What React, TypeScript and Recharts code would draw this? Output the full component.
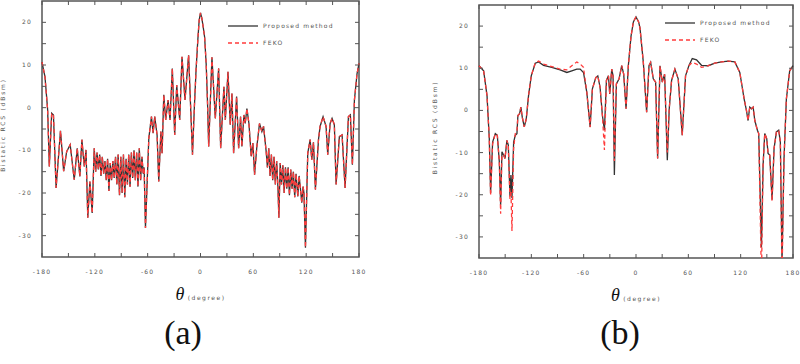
import { LineChart, Line, XAxis, YAxis, ReferenceArea } from "recharts";

// panel (a)
const thetaA = [
  -180, -176.6, -173.6, -171.7, -169, -167, -164, -159, -155.4, -152, -148, -143.4, -140, -137, -134.7, -132, -130, -128,
  -125.6, -123, -120.7, -119, -117.5, -116, -114.5, -113, -111.5, -110, -108.5, -107, -105.5, -104, -102.5, -101, -99.5,
  -98, -96.5, -95, -93.5, -92, -90.5, -89, -87.5, -86, -84.5, -83, -81.5, -80, -78.5, -77, -75.5, -74, -72.5, -71, -69.5,
  -68, -66.5, -65, -64, -62.5, -58.7, -55.7, -53.8, -52, -49.3, -47.4, -45, -43.6, -41.7, -39.5, -36.8, -34.6, -32, -29.3,
  -27, -23.6, -21, -17.6, -13.5, -9.1, -7, -5, -3, -1.5, 0, 1.5, 3, 4.7, 6.5, 8, 9.3, 13, 16.8, 20.6, 22.9, 26.6, 28.2,
  31.2, 33.8, 35.7, 37.6, 41, 43.3, 45.5, 47, 49.3, 50.8, 52.7, 55, 57.6, 59.5, 61.4, 64, 67, 69.7, 71.6, 74.6, 76, 77.5,
  79, 80.5, 82, 83.5, 85, 86.5, 88, 89, 90.5, 92, 93.5, 95, 96.5, 98, 99.5, 101, 102.5, 104, 105.5, 107, 108.5, 110.5,
  112, 113.5, 115, 116.5, 117.5, 119.2, 121.8, 124.5, 126.4, 128.3, 130.5, 134, 135.8, 139.2, 142.6, 144.5, 147.2, 149.4,
  152, 154, 157.7, 160.8, 164.2, 168, 170.2, 172.5, 174.8, 177.8, 180,
];
const rcsA = [
  10.7, 7.2, -0.5, -13.8, -1.3, -1.7, -18.8, -5.4, -14.9, -10.3, -8.7, -16.9, -9.5, -16.1, -7.5, -13.8, -9.9, -25.8,
  -17.3, -24.7, -9.5, -15, -10.5, -14.5, -11, -16, -11.5, -15.5, -12.5, -17, -12, -19.5, -13, -17, -12.5,
  -16.5, -11.5, -18, -11, -20.5, -11.5, -20, -11, -21, -12, -18, -11, -18.5, -10.5, -16.5, -10, -17, -10.5, -18.5, -9.5,
  -17, -11.5, -15.5, -14, -28.2, -7.2, -2.1, -6, -2.1, -6.4, -17.3, -5.6, -10.7, 3, -2.9, 1.8, -2.9, 9.2, -6.4,
  5.3, -2.9, 11.9, 1.8, 12.3, -11, 0, 9, 16, 20.5, 22.2, 21, 19, 16.5, 10, 1, -9.1, 11.8, -2.5, 9.2, -9.5, 4.9, -2.9,
  8.4, -4, 3.3, -10.7, 2.6, -9.5, -2.1, -9.1, -1.7, -3.7, -0.2, -3.7, -11.4, -8.3, -15.7, -9.1, -3.7, -5.6, -4.4, -10.3, -14, -9.5,
  -16, -11, -17, -11.5, -18, -12.5, -19, -25.8, -13, -18, -13.5, -20, -14, -19, -14, -20.5, -14.5, -19, -15, -21, -15.5, -20.8,
  -16, -19, -22.3, -18.5, -20, -32.8, -10.7, -7.5, -12.2, -8.1, -19.2, -7.5, -4.4, -2.1, -4.4, -11, -3.7, -2.5,
  -4, -18, -6.8, -6.4, -18.8, -2.1, -1.7, -13.4, 1.8, 8, 10.4,
];
const refA = rcsA;

// panel (b)
const thetaB = [
  -180, -174.7, -170.8, -168.2, -166.7, -164.4, -161.3, -159, -156.7, -155.2, -153.7, -151.8, -150.2, -148, -146.4, -144.5,
  -143.4, -142.2, -140.3, -138.4, -136.5, -135.4, -133.5, -132, -130.4, -128.1, -125.8, -123.2, -120.1, -115.5, -111.7,
  -106, -96.5, -87, -79.3, -73.6, -67.9, -64, -60.2, -56.4, -52.6, -50, -46.1, -43.8, -41.2, -38.5, -36.2, -33.9, -31.6,
  -30.1, -27.8, -26.3, -24.8, -22.5, -19.4, -16.4, -14.1, -11.4, -8.8, -5.7, -3, 0, 3, 4.6, 8.4, 12.2, 14.9, 16.8, 19.8,
  22.5, 24.8, 27.5, 30.1, 32.8, 35.9, 38.1, 40.8, 44.6, 48.4, 53, 56.8, 60.6, 64.5, 69.4, 75.1, 82.8, 90.4, 98, 105.7,
  113.3, 119, 124, 126.6, 128.5, 130.4, 132.4, 134.3, 136.2, 139.2, 140.7, 143.8, 145.7, 147.6, 149.9, 151.4, 153.3, 156,
  158.3, 161, 163.6, 165.5, 167.4, 169.7, 172.4, 176.2, 180,
];
const rcsB = [
  10.6, 9.4, 3.5, -6.7, -19.6, -7.5, -5.5, -5.9, -12.2, -22.4, -9.8, -10.6, -11.4, -7.1, -8.2, -20.4,
  -15.3, -20.8, -7.5, -5.9, -5.5, -1.2, -0.8, 0.8, -1.6, -3.9, -2, 3.5, 8.2, 11.2, 11.5,
  10.7, 10.2, 9.6, 9, 9.4, 9.8, 9.8, 9, 4.3, -3.9, 5.1, 7.8, 8.2, 5.5, -1.2, -4.7, 7.1, 8.2,
  3.9, 9.8, 8.2, -15.3, 6.3, 7.5, 10.6, 8.6, 0.4, 10.6, 17.6, 21, 22.2, 21, 19.5, 11.4, -0.4, 10.6, 11.4, 7.5,
  6.7, -11.4, 10.6, 6.7, 8.6, -11.8, 0.4, 7.1, 9.8, 7.5, -5.9, 8.2, 10.6, 12.3, 12, 10.7, 10.6, 11.2, 11.5, 11.7,
  11.5, 9, 2.7, 0, -2.4, 0.8, 0.4, 0.8, -2.4, -4.7, -5.5, -32.5, -13, -5.5, -6.7, -10.2, -10.6, -21.2,
  -9, -5.1, -4.7, -7.5, -36, -11.4, 2.7, 9.4, 10.6,
];
const refB = [
  10.6, 9.4, 3.5, -6.7, -20.2, -8, -5.5, -5.9, -12.2, -24.5, -10.5, -10.6, -11.4, -7.1, -8.5, -21,
  -19, -28.6, -9, -5.5, -5, -1.2, -0.8, 0.8, -1.6, -3.9, -2, 3.5, 8.2, 11.3, 11.7,
  11, 10.4, 9.8, 9.6, 10.6, 11.5, 11, 10.2, 4.3, -4, 5.1, 7.8, 8.2, 5.5, -1.2, -9.4, 7.1, 8.2,
  3.9, 9.8, 8.2, -12, 6.3, 7.5, 10.6, 8.6, 0.4, 10.6, 17.6, 21, 22.2, 21, 19.5, 11.4, -0.4, 10.6, 11.4, 7.5,
  6.7, -11.4, 10.6, 6.7, 8.6, -10, 0.4, 7.1, 9.8, 7.5, -5.9, 8.2, 10.6, 11.4, 11, 10.2, 10.6, 11.2, 11.5, 11.7,
  11.5, 9, 2.7, 0, -2.4, 0.8, 0.4, 0.8, -2.4, -4.7, -5.5, -40, -13, -5.5, -6.7, -10.2, -10.6, -21.5,
  -9, -5.1, -4.7, -7.5, -40, -11.4, 2.7, 9.4, 10.6,
];

const xTicks = [-180, -150, -120, -90, -60, -30, 0, 30, 60, 90, 120, 150, 180];
const yTicks = [-30, -25, -20, -15, -10, -5, 0, 5, 10, 15, 20];
const seriesNames = ["Proposed method", "FEKO"];
const yTitle = "Bistatic RCS (dBsm)";
const xTitle = " (degree)";

const FRAME = "#555";
const tickFont = { fontSize: 6, fill: "#555", fontFamily: "DejaVu Sans", letterSpacing: 1.2 };

function Panel({ theta, black, red, caption, left, plot, yTitleOff, legendPos }: any) {
  const data = theta.map((t: number, i: number) => ({ theta: t, a: black[i], b: red[i] }));
  const W = 400;
  const H = 364;
  const yAxisW = 30;
  const xAxisH = 30;
  const margin = { top: plot.top, right: W - plot.right, bottom: H - plot.bottom - xAxisH, left: plot.left - yAxisW };
  const plotW = plot.right - plot.left;
  const plotH = plot.bottom - plot.top;

  const yTick = (p: any) => (
    <g>
      <line x1={plot.left} y1={p.y} x2={plot.left + 4} y2={p.y} stroke={FRAME} />
      <line x1={plot.right} y1={p.y} x2={plot.right - 4} y2={p.y} stroke={FRAME} />
      {p.payload.value % 10 === 0 && (
        <text x={plot.left - 10} y={p.y + 2} textAnchor="end" {...tickFont}>{p.payload.value}</text>
      )}
    </g>
  );
  const xTick = (p: any) => (
    <g>
      <line x1={p.x} y1={plot.bottom} x2={p.x} y2={plot.bottom - 4} stroke={FRAME} />
      <line x1={p.x} y1={plot.top} x2={p.x} y2={plot.top + 4} stroke={FRAME} />
      {p.payload.value % 60 === 0 && (
        <text x={p.x} y={plot.bottom + 17} textAnchor="middle" {...tickFont}>{p.payload.value}</text>
      )}
    </g>
  );

  return (
    <div style={{ position: "absolute", left, top: 0, width: W, height: H }}>
      <LineChart width={W} height={H} data={data} margin={margin}>
        <XAxis
          type="number"
          dataKey="theta"
          domain={[-180, 180]}
          ticks={xTicks}
          interval={0}
          height={xAxisH}
          tickLine={false}
          axisLine={false}
          tick={xTick}
        />
        <YAxis
          type="number"
          domain={[-35, 25]}
          allowDataOverflow
          ticks={yTicks}
          interval={0}
          width={yAxisW}
          tickLine={false}
          axisLine={false}
          tick={yTick}
        />
        <ReferenceArea x1={-180} x2={180} y1={-35} y2={25} fill="none" stroke={FRAME} strokeWidth={1.5} />
        <Line type="linear" dataKey="a" name={seriesNames[0]} stroke="#333" strokeWidth={1.3} dot={false} isAnimationActive={false} />
        <Line type="linear" dataKey="b" name={seriesNames[1]} stroke="#ff3b3b" strokeWidth={1.3} strokeDasharray="4 3" dot={false} isAnimationActive={false} />
      </LineChart>
      {/* axis titles */}
      <svg style={{ position: "absolute", left: 0, top: 0, pointerEvents: "none" }} width={W} height={H}>
        <text x={plot.left + plotW / 2} y={plot.bottom + 43} textAnchor="middle" fill="#111">
          <tspan fontFamily="Liberation Serif" fontStyle="italic" fontSize={18}>θ</tspan>
          <tspan fontFamily="DejaVu Sans" fontSize={6} fill="#555" letterSpacing={1.5}>{xTitle}</tspan>
        </text>
        <text
          x={plot.left - yTitleOff}
          y={plot.top + plotH / 2 - 4}
          transform={`rotate(-90 ${plot.left - yTitleOff} ${plot.top + plotH / 2 - 4})`}
          textAnchor="middle"
          {...tickFont}
          letterSpacing={1.8}
        >
          {yTitle}
        </text>
      </svg>
      {/* legend */}
      <div style={{ position: "absolute", left: legendPos.x, top: legendPos.y }}>
        {seriesNames.map((n, i) => (
          <div key={n} style={{ display: "flex", alignItems: "center", height: 17 }}>
            <svg width={31} height={6}>
              <line x1={0} y1={3} x2={30} y2={3} stroke={i === 0 ? "#333" : "#ff3b3b"} strokeWidth={1.3} strokeDasharray={i === 0 ? undefined : "4 3"} />
            </svg>
            <span style={{ fontFamily: "DejaVu Sans", fontSize: 6, letterSpacing: 1.2, color: "#555", marginLeft: 4 }}>{n}</span>
          </div>
        ))}
      </div>
      <div style={{ position: "absolute", left: 0, width: W, top: 314, textAlign: "center", fontFamily: "Liberation Serif", fontSize: 34, color: "#111" }}>
        <span style={{ position: "relative", left: caption === "(a)" ? -17 : 20 }}>{caption}</span>
      </div>
    </div>
  );
}

export default function App() {
  return (
    <div style={{ position: "absolute", left: 0, top: 0, width: 800, height: 364, background: "#fff" }}>
      <Panel
        theta={thetaA}
        black={rcsA}
        red={refA}
        caption="(a)"
        left={0}
        plot={{ left: 42, right: 359, top: 1, bottom: 257 }}
        yTitleOff={37}
        legendPos={{ x: 228, y: 17 }}
      />
      <Panel
        theta={thetaB}
        black={rcsB}
        red={refB}
        caption="(b)"
        left={400}
        plot={{ left: 79, right: 393, top: 5, bottom: 258 }}
        yTitleOff={42}
        legendPos={{ x: 265, y: 14 }}
      />
    </div>
  );
}
